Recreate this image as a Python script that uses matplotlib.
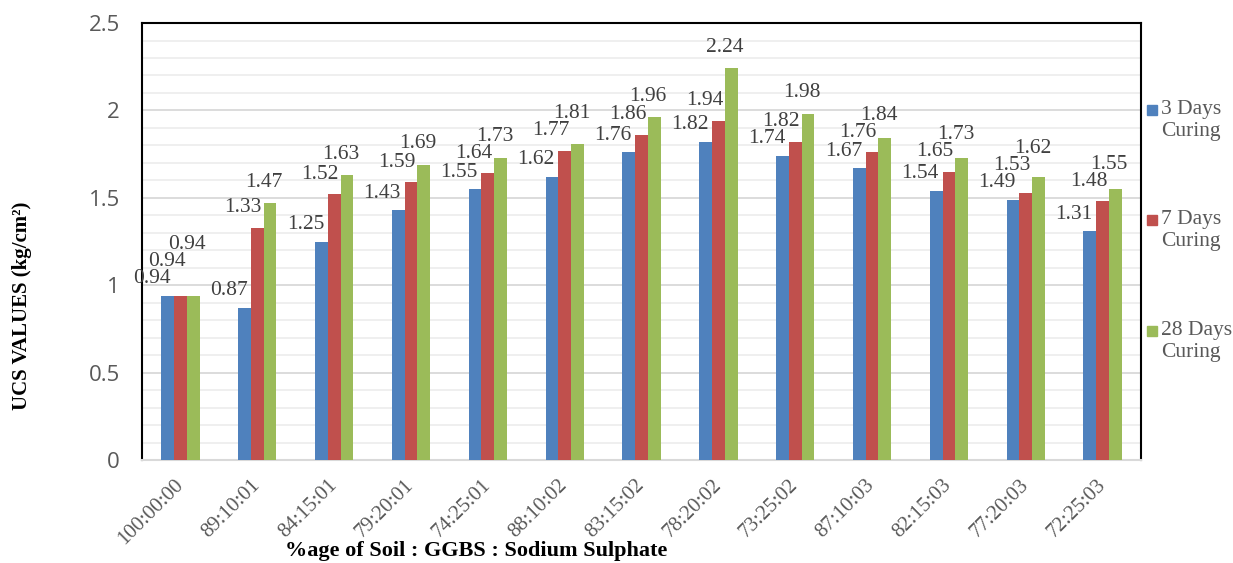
import numpy as np
import matplotlib
matplotlib.use("Agg")
from matplotlib import pyplot as plt
from matplotlib.patches import Rectangle

mezclas = ["100:00:00", "89:10:01", "84:15:01", "79:20:01", "74:25:01", "88:10:02",
           "83:15:02", "78:20:02", "73:25:02", "87:10:03", "82:15:03", "77:20:03", "72:25:03"]
ucs_3d = [0.94, 0.87, 1.25, 1.43, 1.55, 1.62, 1.76, 1.82, 1.74, 1.67, 1.54, 1.49, 1.31]
ucs_7d = [0.94, 1.33, 1.52, 1.59, 1.64, 1.77, 1.86, 1.94, 1.82, 1.76, 1.65, 1.53, 1.48]
ucs_28d = [0.94, 1.47, 1.63, 1.69, 1.73, 1.81, 1.96, 2.24, 1.98, 1.84, 1.73, 1.62, 1.55]
series_names = ["3 Days\nCuring", "7 Days\nCuring", "28 Days\nCuring"]

colores = ["#4F81BD", "#C0504D", "#9BBB59"]
# desplazamiento de las etiquetas (pixeles) respecto a la punta de cada barra
desp = [(-16, 17), (-14, 20), (-6, 21)]
sep_min = 17  # separacion vertical minima entre etiquetas vecinas (px)

serif = "Liberation Serif"
gris = "#595959"

fig = plt.figure(figsize=(12.33, 5.63), dpi=100)
ax = fig.add_axes([0.1152, 0.1829, 0.8102, 0.7762])

x = np.arange(len(mezclas))
ancho = 0.166
series = [ucs_3d, ucs_7d, ucs_28d]
px_por_unidad = 0.7762 * 563 / 2.5

for k, valores in enumerate(series):
    ax.bar(x + (k - 1) * ancho, valores, width=ancho, color=colores[k], zorder=3)

for i in range(len(mezclas)):
    y_prev = None
    for k, valores in enumerate(series):
        v = valores[i]
        dx, dy = desp[k]
        y_lab = v * px_por_unidad + dy
        if y_prev is not None and y_lab - y_prev < sep_min:
            dy += sep_min - (y_lab - y_prev)
            y_lab = v * px_por_unidad + dy
        y_prev = y_lab
        ax.annotate(f"{v:.2f}", (x[i] + (k - 1) * ancho, v), xytext=(dx * 0.72, dy * 0.72),
                    textcoords="offset points", ha="center", va="center", fontsize=15.5,
                    family=serif, color="#404040", zorder=4)

ax.set_xlim(-0.5, len(mezclas) - 0.5)
ax.set_ylim(0, 2.5)
ax.set_yticks(np.arange(0, 2.51, 0.5))
ax.set_yticklabels(["0", "0.5", "1", "1.5", "2", "2.5"])
ax.set_yticks(np.arange(0, 2.51, 0.1), minor=True)
ax.grid(axis="y", which="minor", color="#EEEEEE", lw=1.3, zorder=0)
ax.grid(axis="y", which="major", color="#D9D9D9", lw=1.3, zorder=1)
ax.tick_params(axis="y", which="both", length=0, labelsize=16, labelcolor=gris, pad=16)
for t in ax.get_yticklabels():
    t.set_family("Open Sans")

ax.set_xticks(x)
ax.set_xticklabels(mezclas, rotation=45, ha="right", va="center", rotation_mode="anchor",
                   family=serif, fontsize=15, color=gris)
ax.tick_params(axis="x", length=0, pad=16)

for lado in ["left", "top", "right"]:
    ax.spines[lado].set_color("black")
    ax.spines[lado].set_linewidth(1.5)
ax.spines["bottom"].set_color("#D9D9D9")
ax.spines["bottom"].set_linewidth(1.5)

fig.text(0.018, 0.456, "UCS VALUES (kg/cm²)", rotation=90, ha="center", va="center",
         family=serif, fontweight="bold", fontsize=15)
fig.text(0.386, 0.021, "%age of Soil : GGBS : Sodium Sulphate", ha="center", va="center",
         family=serif, fontweight="bold", fontsize=16)

# leyenda a la derecha
W, H = 1233.0, 563.0
for k, (nombre, y0) in enumerate(zip(series_names, [110, 220, 331])):
    fig.patches.append(Rectangle((1147 / W, 1 - (y0 + 5) / H), 10 / W, 10 / H,
                                 transform=fig.transFigure, color=colores[k]))
    fig.text(1161 / W, 1 - (y0 - 10) / H, nombre, ha="left", va="top", family=serif,
             fontsize=15.5, color=gris, linespacing=1.2)

fig.savefig("out.png", dpi=100)
